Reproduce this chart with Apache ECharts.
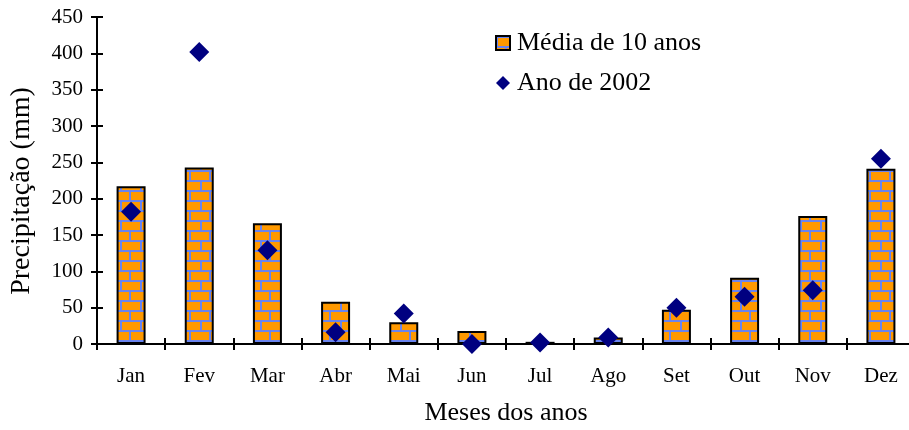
<!DOCTYPE html>
<html><head><meta charset="utf-8">
<script src="https://cdn.jsdelivr.net/npm/echarts@6/dist/echarts.min.js"></script>
<style>html,body{margin:0;padding:0;background:#fff}#c{width:909px;height:430px}</style>
</head><body><div id="c"></div>
<script>
const categories = ['Jan','Fev','Mar','Abr','Mai','Jun','Jul','Ago','Set','Out','Nov','Dez'];
const media10 = [217,243,166,58,30,18,3,9,47,91,176,241];
const ano2002 = [182,402,129,16,42,0,2,9,50,65,74,255];
const seriesNames = ['Média de 10 anos','Ano de 2002'];
const yAxisTitle = 'Precipitação (mm)';
const xAxisTitle = 'Meses dos anos';

function brick(){
  const c=document.createElement('canvas'); c.width=20; c.height=20;
  const g=c.getContext('2d');
  g.fillStyle='#6a84ee'; g.fillRect(0,0,20,20);
  g.fillStyle='#ff9900';
  g.fillRect(2,2,18,8);
  g.fillRect(0,12,9,8); g.fillRect(11,12,9,8);
  return c;
}
const pat={image:brick(),repeat:'repeat'};
const font='"Liberation Serif","Times New Roman",serif';
const chart=echarts.init(document.getElementById('c'),null,{renderer:'canvas'});
const xBase={type:'category',data:categories,boundaryGap:true,position:'bottom',
  axisLine:{lineStyle:{color:'#000',width:2}},
  axisTick:{show:true,alignWithLabel:false,length:6,lineStyle:{color:'#000',width:2}},
  splitLine:{show:false}};
const yBase={type:'value',min:0,max:450,interval:50,position:'left',
  axisLine:{show:true,lineStyle:{color:'#000',width:2}},
  axisTick:{show:true,length:6,lineStyle:{color:'#000',width:2}},
  splitLine:{show:false}};
chart.setOption({
  animation:false,
  grid:{left:97,top:17,width:818,height:327,outerBoundsMode:'none',containLabel:false},
  legend:{orient:'vertical',left:490,top:25,itemGap:14,itemWidth:14,itemHeight:14,
    textStyle:{fontFamily:font,fontSize:26,color:'#000',padding:[0,0,0,2]},
    data:[{name:seriesNames[0],icon:'rect'},{name:seriesNames[1],icon:'path://M7,0 L14,7 L7,14 L0,7 Z'}]},
  graphic:[{type:'text',x:22,y:191,rotation:Math.PI/2,
    style:{text:yAxisTitle,fontFamily:font,fontSize:28,fill:'#000',align:'center',verticalAlign:'middle'}}],
  xAxis:[
    Object.assign({},xBase,{axisLabel:{fontFamily:font,fontSize:21,color:'#000',margin:22},
      name:xAxisTitle,nameLocation:'middle',nameGap:56,
      nameTextStyle:{fontFamily:font,fontSize:26,color:'#000'}}),
    Object.assign({},xBase,{axisLabel:{show:false},axisTick:{show:true,inside:true,length:6,lineStyle:{color:'#000',width:2}}})
  ],
  yAxis:[
    Object.assign({},yBase,{axisLabel:{fontFamily:font,fontSize:21,color:'#000',margin:14}}),
    Object.assign({},yBase,{axisLabel:{show:false},axisTick:{show:true,inside:true,length:6,lineStyle:{color:'#000',width:2}}})
  ],
  series:[
    {name:seriesNames[0],type:'bar',data:media10,barWidth:29,xAxisIndex:0,yAxisIndex:0,
      itemStyle:{color:pat,borderColor:'#000',borderWidth:2}},
    {name:seriesNames[1],type:'scatter',data:ano2002,symbol:'diamond',symbolSize:20,z:5,
      xAxisIndex:0,yAxisIndex:0,itemStyle:{color:'#000080',opacity:1}}
  ]
});
</script></body></html>
